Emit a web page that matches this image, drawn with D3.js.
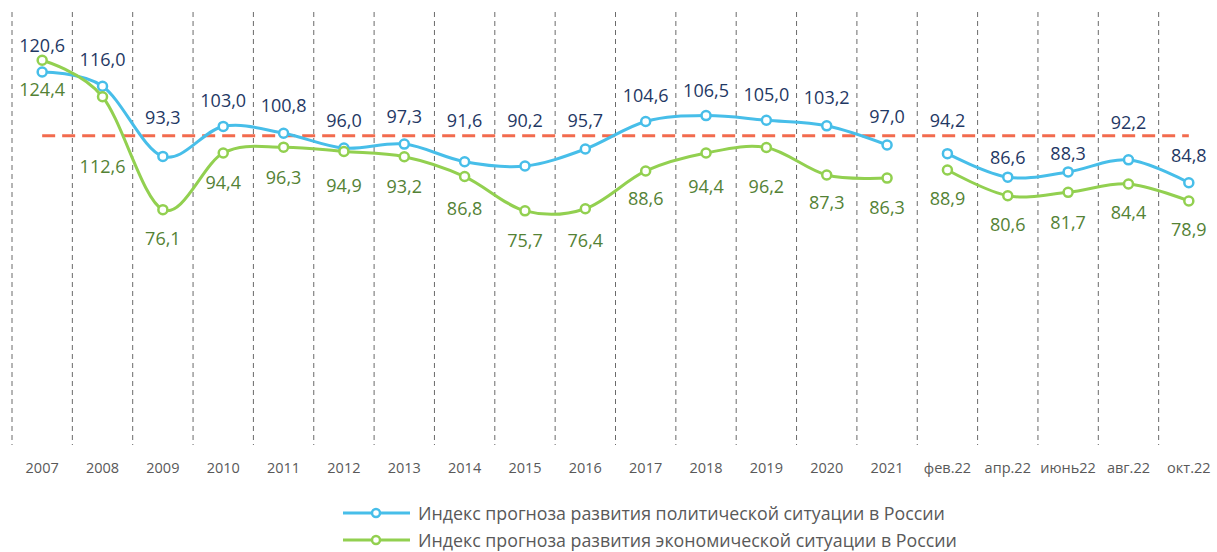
<!DOCTYPE html>
<html>
<head>
<meta charset="utf-8">
<script src="https://cdn.jsdelivr.net/npm/d3@7"></script>
<style>
  body { margin: 0; background: #fff; }
  text { font-family: "Open Sans", sans-serif; }
</style>
</head>
<body>
<div id="wrapper"></div>
<script>
// data
const periods = ["2007", "2008", "2009", "2010", "2011", "2012", "2013", "2014", "2015", "2016",
  "2017", "2018", "2019", "2020", "2021", "фев.22", "апр.22", "июнь22", "авг.22", "окт.22"]
const politValues = [120.6, 116.0, 93.3, 103.0, 100.8, 96.0, 97.3, 91.6, 90.2, 95.7,
  104.6, 106.5, 105.0, 103.2, 97.0, 94.2, 86.6, 88.3, 92.2, 84.8]
const econValues = [124.4, 112.6, 76.1, 94.4, 96.3, 94.9, 93.2, 86.8, 75.7, 76.4,
  88.6, 94.4, 96.2, 87.3, 86.3, 88.9, 80.6, 81.7, 84.4, 78.9]
const seriesNames = [
  "Индекс прогноза развития политической ситуации в России",
  "Индекс прогноза развития экономической ситуации в России"
]
const baseline = 100
// yearly block ends at 2021, monthly 2022 block is drawn as its own segment
const splitAt = 15

// label nudges (px from the point), labels were hand placed in the original
const politLabelDy = [-27, -27, -39, -26, -28, -28, -28, -41, -46, -29,
  -26, -25, -26, -28, -28, -33, -20, -18, -37, -27]
const econLabelDy = [29, 70, 29, 29, 30, 34, 30, 32, 30, 32,
  28, 33, 39, 28, 29, 28, 29, 30, 29, 29]

const width = 1217
const height = 552
const dms = { top: 12, bottom: 445, left: 12, right: 1219 }

const svg = d3.select("#wrapper").append("svg")
  .attr("width", width)
  .attr("height", height)

const xScale = d3.scaleBand()
  .domain(periods)
  .range([dms.left, dms.right])

const yScale = d3.scaleLinear()
  .domain([0, 140])
  .range([dms.bottom, dms.top])

const cx = d => xScale(d) + xScale.bandwidth() / 2

// vertical dashed separators
const edges = periods.map(p => xScale(p))
svg.append("g")
  .selectAll("line")
  .data(edges)
  .join("line")
    .attr("x1", d => d).attr("x2", d => d)
    .attr("y1", dms.top).attr("y2", dms.bottom)
    .attr("stroke", "#6a6a6a")
    .attr("stroke-width", 1)
    .attr("stroke-dasharray", "5 4")

// category labels
svg.append("g")
  .selectAll("text")
  .data(periods)
  .join("text")
    .attr("x", d => cx(d))
    .attr("y", 473)
    .attr("text-anchor", "middle")
    .attr("font-size", 14.5)
    .attr("fill", "#595959")
    .text(d => d)

// baseline 100
svg.append("line")
  .attr("x1", cx(periods[0]))
  .attr("x2", cx(periods[periods.length - 1]))
  .attr("y1", yScale(baseline))
  .attr("y2", yScale(baseline))
  .attr("stroke", "#F26B4E")
  .attr("stroke-width", 3)
  .attr("stroke-dasharray", "13 7")

const lineGen = d3.line()
  .x(d => cx(d.p))
  .y(d => yScale(d.v))
  .curve(d3.curveCardinal.tension(0))

const fmt = v => d3.format(".1f")(v).replace(".", ",")

const series = [
  { values: politValues, dy: politLabelDy, color: "#47BEE9", labelColor: "#1F3864" },
  { values: econValues, dy: econLabelDy, color: "#92D050", labelColor: "#548235" }
]

series.forEach(s => {
  const pts = periods.map((p, i) => ({ p, v: s.values[i], i }))
  const segs = [pts.slice(0, splitAt), pts.slice(splitAt)]
  const g = svg.append("g")

  g.selectAll("path")
    .data(segs)
    .join("path")
      .attr("d", lineGen)
      .attr("fill", "none")
      .attr("stroke", s.color)
      .attr("stroke-width", 3)

  g.selectAll("circle")
    .data(pts)
    .join("circle")
      .attr("cx", d => cx(d.p))
      .attr("cy", d => yScale(d.v))
      .attr("r", 4.5)
      .attr("fill", "#fff")
      .attr("stroke", s.color)
      .attr("stroke-width", 2.5)

  g.selectAll("text")
    .data(pts)
    .join("text")
      .attr("x", d => cx(d.p))
      .attr("y", d => yScale(d.v) + s.dy[d.i] + 6.5)
      .attr("text-anchor", "middle")
      .attr("font-size", 18)
      .attr("fill", s.labelColor)
      .text(d => fmt(d.v))
})

// legend
const legend = svg.append("g")
series.forEach((s, i) => {
  const y = 513 + i * 27
  legend.append("line")
    .attr("x1", 343).attr("x2", 410)
    .attr("y1", y).attr("y2", y)
    .attr("stroke", s.color)
    .attr("stroke-width", 3)
  legend.append("circle")
    .attr("cx", 376).attr("cy", y)
    .attr("r", 4)
    .attr("fill", "#fff")
    .attr("stroke", s.color)
    .attr("stroke-width", 2.5)
  legend.append("text")
    .attr("x", 418)
    .attr("y", y + 6.5)
    .attr("font-size", 17.8)
    .attr("fill", "#595959")
    .text(seriesNames[i])
})
</script>
</body>
</html>
